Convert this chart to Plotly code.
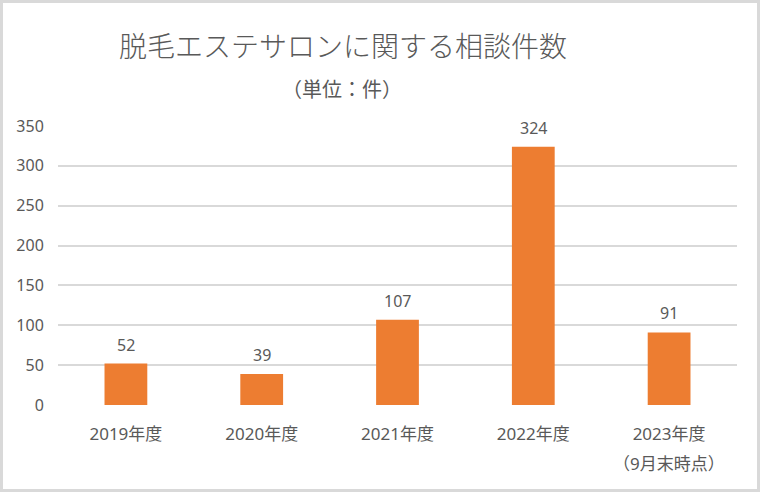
import plotly.graph_objects as go

categories = ["2019年度", "2020年度", "2021年度", "2022年度", "2023年度"]
values = [52, 39, 107, 324, 91]
notes = ["", "", "", "", "（9月末時点）"]
y_ticks = [0, 50, 100, 150, 200, 250, 300, 350]
title_text = "脱毛エステサロンに関する相談件数"
subtitle_text = "（単位：件）"

W, H = 760, 492
L, R, T, B = 58, 23, 126, 87
PW, PH = W - L - R, H - T - B

def px_x(px):
    return (px - L) / PW

def px_y(py):
    return (H - B - py) / PH

TEXT = "#595959"
FONT = "Noto Sans, Noto Sans CJK JP, sans-serif"

fig = go.Figure()
fig.add_trace(go.Bar(
    x=categories, y=values,
    marker=dict(color="#ED7D31", line=dict(width=0)),
    hoverinfo="skip",
))

annotations = []
for c, v in zip(categories, values):
    annotations.append(dict(
        x=c, y=v, xref="x", yref="y", text=str(v), showarrow=False,
        yanchor="bottom", yshift=6, font=dict(size=16, color=TEXT, family=FONT),
    ))
for c, n in zip(categories, notes):
    if n:
        annotations.append(dict(
            x=c, y=px_y(463), xref="x", yref="paper", text=n, showarrow=False,
            yanchor="middle", font=dict(size=17, color=TEXT, family=FONT),
        ))
annotations.append(dict(
    x=px_x(342), y=px_y(88), xref="paper", yref="paper", text=subtitle_text,
    showarrow=False, yanchor="middle", xanchor="center",
    font=dict(size=20, color=TEXT, family="Noto Sans CJK JP, sans-serif"),
))

fig.update_layout(
    width=W, height=H,
    margin=dict(l=L, r=R, t=T, b=B, pad=0),
    paper_bgcolor="white", plot_bgcolor="white",
    bargap=0.685,
    showlegend=False,
    title=dict(
        text=title_text, x=343 / W, xanchor="center", xref="container",
        y=1 - 47 / H, yanchor="middle", yref="container",
        font=dict(size=28, color=TEXT, family="Noto Sans CJK JP, sans-serif", weight=300),
    ),
    annotations=annotations,
    shapes=[dict(
        type="rect", xref="paper", yref="paper",
        x0=px_x(1.5), x1=px_x(W - 1.5), y0=px_y(H - 1.5), y1=px_y(1.5),
        line=dict(color="#d9d9d9", width=3), fillcolor="rgba(0,0,0,0)", layer="below",
    )],
)
fig.update_xaxes(
    type="category", showgrid=False, zeroline=False, showline=False,
    ticks="outside", ticklen=14, tickcolor="rgba(0,0,0,0)",
    tickfont=dict(size=17, color=TEXT, family=FONT),
)
fig.update_yaxes(
    range=[0, 350], tickvals=y_ticks, showgrid=True, gridcolor="#d9d9d9", gridwidth=1.5,
    zeroline=False, showline=False,
    ticks="outside", ticklen=10, tickcolor="rgba(0,0,0,0)",
    tickfont=dict(size=16, color=TEXT, family=FONT),
)

fig.write_html(
    "out.html",
    config={"displayModeBar": False},
    post_script="document.body.style.margin='0';document.body.style.padding='0';",
)
